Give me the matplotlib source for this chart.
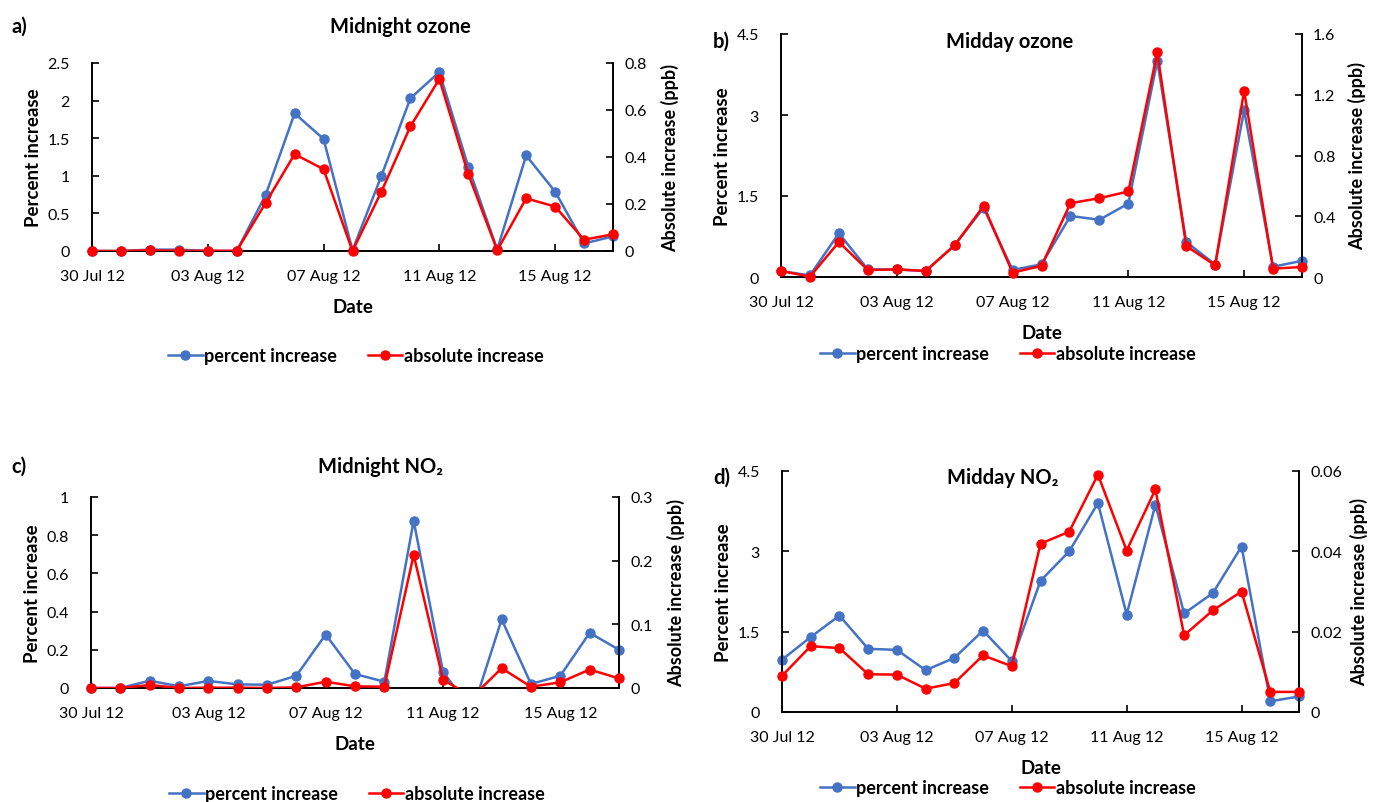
import numpy as np
import matplotlib
matplotlib.use('Agg')
import matplotlib.pyplot as plt
import matplotlib.dates as mdates
from matplotlib.lines import Line2D
from matplotlib.ticker import FuncFormatter

plt.rcParams['font.family'] = ['Lato', 'DejaVu Sans']
plt.rcParams['font.size'] = 11

# dias de la campaña (30 Jul 12 - 17 Aug 12)
dates = np.arange('2012-07-30', '2012-08-18', dtype='datetime64[D]').astype('datetime64[ns]')

# a) ozono medianoche
oz_night_pct = [0.0, 0.0, 0.018, 0.018, 0.0, 0.0, 0.746, 1.83, 1.49, 0.01, 1.0, 2.03, 2.38, 1.12, 0.02, 1.27, 0.79, 0.10, 0.195]
oz_night_abs = [0.0, 0.0, 0.003, 0.001, 0.001, 0.001, 0.205, 0.412, 0.348, 0.0, 0.253, 0.53, 0.732, 0.327, 0.003, 0.224, 0.189, 0.048, 0.071]
# b) ozono mediodia
oz_day_pct = [0.11, 0.03, 0.81, 0.14, 0.14, 0.11, 0.59, 1.28, 0.13, 0.235, 1.13, 1.06, 1.36, 4.0, 0.65, 0.23, 3.09, 0.19, 0.30]
oz_day_abs = [0.04, 0.002, 0.23, 0.046, 0.05, 0.04, 0.209, 0.468, 0.029, 0.073, 0.486, 0.519, 0.563, 1.479, 0.204, 0.077, 1.226, 0.055, 0.066]
# c) NO2 medianoche
no2_night_pct = [0.0, 0.0, 0.038, 0.009, 0.037, 0.019, 0.017, 0.064, 0.28, 0.073, 0.033, 0.875, 0.085, -0.12, 0.359, 0.021, 0.064, 0.289, 0.2]
no2_night_abs = [0.0, 0.0, 0.0047, 0.0, 0.0005, 0.0005, 0.0, 0.001, 0.0099, 0.0026, 0.002, 0.209, 0.013, -0.014, 0.031, 0.002, 0.009, 0.029, 0.015]
# d) NO2 mediodia
no2_day_pct = [0.976, 1.40, 1.80, 1.18, 1.16, 0.78, 1.01, 1.52, 0.95, 2.45, 3.0, 3.90, 1.82, 3.87, 1.84, 2.22, 3.09, 0.2, 0.29]
no2_day_abs = [0.0090, 0.0164, 0.0159, 0.0094, 0.0093, 0.0058, 0.0072, 0.0141, 0.0114, 0.0419, 0.0449, 0.0591, 0.0402, 0.0554, 0.0191, 0.0253, 0.0300, 0.0050, 0.0050]

BLUE = '#4472C4'
RED = '#FF0000'
W, H = 1373, 803


def box(l, t, r, b):
    return [l / W, 1 - b / H, (r - l) / W, (b - t) / H]


fmt = FuncFormatter(lambda v, p: '{:g}'.format(round(v, 4)))


def serie(ax, y, color):
    y = np.array(y)
    ax.plot(dates, y, color=color, lw=1.8, zorder=3)
    ym = np.ma.masked_less(y, 0)
    ax.plot(dates, ym, 'o', color=color, ms=6.5, clip_on=False, zorder=4)


def panel(rect, pct, ab, lim1, step1, lim2, step2, lpad=10):
    ax = fig.add_axes(rect)
    ax2 = ax.twinx()
    serie(ax, pct, BLUE)
    serie(ax2, ab, RED)
    ax.set_xlim(dates[0], dates[-1])
    ax.set_ylim(0, lim1)
    ax2.set_ylim(0, lim2)
    ax.set_yticks(np.arange(0, lim1 + 1e-9, step1))
    ax2.set_yticks(np.arange(0, lim2 + 1e-9, step2))
    ax.yaxis.set_major_formatter(fmt)
    ax2.yaxis.set_major_formatter(fmt)
    ax.set_xticks(dates[::4])
    ax.xaxis.set_major_formatter(mdates.DateFormatter('%d %b %y'))
    for a in (ax, ax2):
        a.spines['top'].set_visible(False)
        a.tick_params(direction='in', length=5, width=1.2, labelsize=11.5)
        for s in a.spines.values():
            s.set_linewidth(1.2)
    ax.tick_params(axis='x', pad=13)
    ax.tick_params(axis='y', pad=16)
    ax2.tick_params(axis='y', pad=8)
    ax.set_xlabel('Date', fontweight='bold', fontsize=13.5, labelpad=11)
    ax.set_ylabel('Percent increase', fontweight='bold', fontsize=13.5, labelpad=4)
    ax2.set_ylabel('Absolute increase (ppb)', fontweight='bold', fontsize=13, labelpad=lpad)
    return ax, ax2


def leyenda(cx, cy):
    hs = [Line2D([], [], color=BLUE, lw=1.8, marker='o', ms=6.5),
          Line2D([], [], color=RED, lw=1.8, marker='o', ms=6.5)]
    fig.legend(hs, ['percent increase', 'absolute increase'], loc='center',
               bbox_to_anchor=(cx / W, 1 - cy / H), ncol=2, frameon=False,
               prop={'weight': 'bold', 'size': 13}, handlelength=1.9,
               handletextpad=0.1, columnspacing=1.7)


fig = plt.figure(figsize=(13.73, 8.03), dpi=100)

panel(box(92, 64, 613, 252), oz_night_pct, oz_night_abs, 2.5, 0.5, 0.8, 0.2)
fig.text(400 / W, 1 - 27 / H, 'Midnight ozone', ha='center', va='center', fontweight='bold', fontsize=14.5)
fig.text(12 / W, 1 - 27 / H, 'a)', ha='left', va='center', fontweight='bold', fontsize=14.5)
leyenda(356, 357)

panel(box(781, 35, 1302, 278), oz_day_pct, oz_day_abs, 4.5, 1.5, 1.6, 0.4, lpad=9)
fig.text(1010 / W, 1 - 42 / H, 'Midday ozone', ha='center', va='center', fontweight='bold', fontsize=14.5)
fig.text(713 / W, 1 - 42 / H, 'b)', ha='left', va='center', fontweight='bold', fontsize=14.5)
leyenda(1008, 355)

panel(box(91, 498, 619, 689), no2_night_pct, no2_night_abs, 1.0, 0.2, 0.3, 0.1)
fig.text(380 / W, 1 - 467 / H, 'Midnight NO₂', ha='center', va='center', fontweight='bold', fontsize=14.5)
fig.text(11 / W, 1 - 467 / H, 'c)', ha='left', va='center', fontweight='bold', fontsize=14.5)
leyenda(357, 795)

panel(box(782, 472, 1299, 713), no2_day_pct, no2_day_abs, 4.5, 1.5, 0.06, 0.02, lpad=6)
fig.text(1003 / W, 1 - 478 / H, 'Midday NO₂', ha='center', va='center', fontweight='bold', fontsize=14.5)
fig.text(713 / W, 1 - 478 / H, 'd)', ha='left', va='center', fontweight='bold', fontsize=14.5)
leyenda(1008, 789)

plt.savefig('out.png', dpi=100)
